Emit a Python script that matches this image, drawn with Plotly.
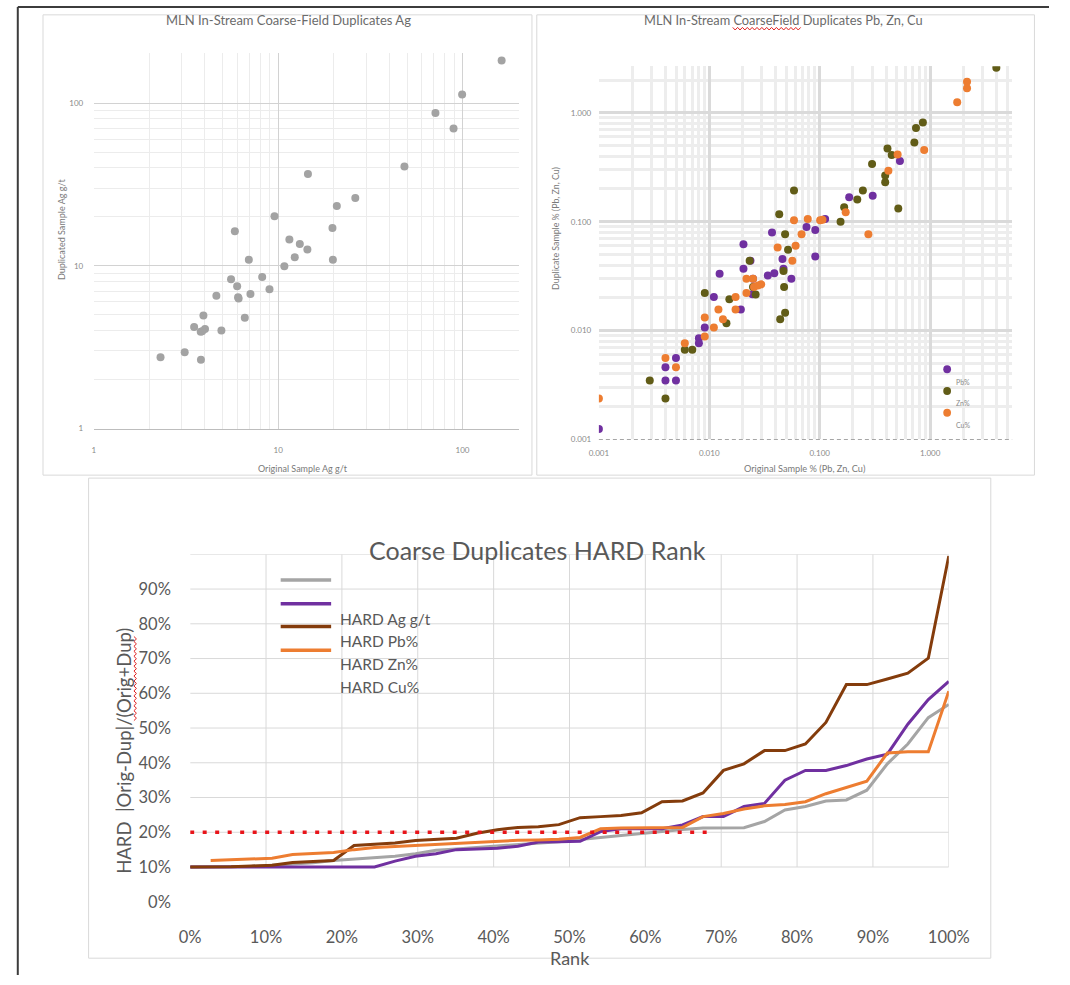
import math
import plotly.graph_objects as go

W, H = 1070, 985
FONT = "Lato"


def fx(p):
    return p / W


def fy(p):
    return 1 - p / H


# ---------------- Top-left: Ag duplicates (g/t) ----------------
ag_orig = [163, 99.5, 71.3, 89.4, 48.4, 14.5, 26.2, 20.8, 9.55, 19.7, 5.82, 11.5,
           13.1, 14.4, 12.3, 6.93, 19.8, 10.8, 8.19, 5.55, 5.99, 8.97, 7.07, 4.62,
           6.06, 6.1, 3.93, 6.59, 3.5, 4.01, 3.8, 4.92, 3.11, 2.3, 3.81, 3.87]
ag_dup = [183, 113, 87, 69.8, 40.8, 36.7, 26.1, 23.3, 20.2, 17.1, 16.3, 14.5,
          13.6, 12.6, 11.3, 10.9, 10.9, 9.93, 8.55, 8.28, 7.5, 7.17, 6.71, 6.56,
          6.41, 6.3, 4.95, 4.8, 4.21, 4.09, 3.93, 4.0, 2.95, 2.74, 2.65, 3.97]

# ---------------- Top-right: Pb, Zn, Cu duplicates (%) ----------------
pb_orig = [0.001, 0.00401, 0.00401, 0.00499, 0.00499, 0.00805, 0.00805, 0.0091,
           0.0110, 0.0124, 0.0193, 0.0204, 0.0204, 0.0236, 0.0249, 0.0246, 0.0339,
           0.0370, 0.0388, 0.0460, 0.0470, 0.0554, 0.0759, 0.0912, 0.0912, 0.112,
           0.185, 0.302, 0.533]
pb_dup = [0.00125, 0.00461, 0.00349, 0.0056, 0.00349, 0.00851, 0.00767, 0.0107,
          0.0204, 0.0332, 0.0156, 0.0622, 0.0369, 0.0439, 0.0299, 0.0216, 0.0321,
          0.0794, 0.0337, 0.0454, 0.0369, 0.0299, 0.0894, 0.0839, 0.0478, 0.106,
          0.168, 0.173, 0.361]

zn_orig = [0.00289, 0.00401, 0.0060, 0.00702, 0.0091, 0.0152, 0.0143, 0.0232,
           0.0263, 0.0249, 0.0430, 0.0439, 0.0486, 0.0476, 0.0470, 0.0486, 0.0517,
           0.0585, 0.1545, 0.1666, 0.219, 0.246, 0.298, 0.392, 0.392, 0.449, 0.411,
           0.515, 0.720, 0.745, 0.860, 3.98]
zn_dup = [0.00349, 0.00238, 0.00667, 0.00667, 0.0221, 0.0194, 0.0117, 0.0439,
          0.0214, 0.0251, 0.117, 0.0127, 0.0146, 0.0251, 0.0352, 0.0767, 0.0553,
          0.193, 0.100, 0.136, 0.160, 0.193, 0.339, 0.266, 0.230, 0.409, 0.471,
          0.132, 0.534, 0.726, 0.816, 2.60]

cu_orig = [0.001, 0.00401, 0.00499, 0.0060, 0.0091, 0.0091, 0.0110, 0.0121, 0.0133,
           0.0173, 0.0173, 0.0217, 0.0217, 0.0249, 0.0254, 0.0295, 0.0276, 0.0416,
           0.0565, 0.0605, 0.0585, 0.0685, 0.078, 0.101, 0.106, 0.172, 0.276, 0.419,
           0.508, 0.884, 1.76, 2.16, 2.16]
cu_dup = [0.00238, 0.0056, 0.00461, 0.00767, 0.0132, 0.00881, 0.0107, 0.0156, 0.0127,
          0.0204, 0.0156, 0.0221, 0.0299, 0.0299, 0.0251, 0.0266, 0.0260, 0.0581,
          0.0439, 0.0601, 0.103, 0.0767, 0.106, 0.103, 0.104, 0.122, 0.0767, 0.293,
          0.415, 0.455, 1.25, 1.93, 1.68]

scatter_names = ["Pb%", "Zn%", "Cu%"]
scatter_colors = ["#7030a0", "#615c17", "#ed7d31"]

# ---------------- Bottom: HARD rank ----------------
rank = [0.000, 0.027, 0.054, 0.081, 0.108, 0.135, 0.162, 0.189, 0.216, 0.243,
        0.270, 0.297, 0.324, 0.351, 0.378, 0.405, 0.432, 0.459, 0.486, 0.514,
        0.541, 0.568, 0.595, 0.622, 0.649, 0.676, 0.703, 0.730, 0.757, 0.784,
        0.811, 0.838, 0.865, 0.892, 0.919, 0.946, 0.973, 1.000]
rank_cu = rank[1:]

hard_ag = [0.100, 0.100, 0.100, 0.102, 0.105, 0.108, 0.112, 0.119, 0.123, 0.126,
           0.131, 0.138, 0.148, 0.152, 0.156, 0.160, 0.164, 0.168, 0.173, 0.179,
           0.185, 0.192, 0.197, 0.203, 0.208, 0.212, 0.212, 0.213, 0.231, 0.264,
           0.274, 0.290, 0.293, 0.321, 0.397, 0.454, 0.530, 0.568]
hard_pb = [0.100, 0.100, 0.100, 0.100, 0.100, 0.100, 0.100, 0.100, 0.100, 0.100,
           0.117, 0.131, 0.138, 0.150, 0.152, 0.154, 0.160, 0.172, 0.173, 0.174,
           0.202, 0.210, 0.210, 0.210, 0.221, 0.245, 0.245, 0.274, 0.283, 0.350,
           0.378, 0.378, 0.392, 0.411, 0.425, 0.511, 0.582, 0.634]
hard_zn = [0.100, 0.100, 0.101, 0.103, 0.105, 0.113, 0.115, 0.119, 0.162, 0.166,
           0.169, 0.176, 0.180, 0.183, 0.197, 0.207, 0.214, 0.216, 0.222, 0.242,
           0.245, 0.248, 0.256, 0.288, 0.290, 0.313, 0.378, 0.397, 0.435, 0.435,
           0.454, 0.516, 0.625, 0.625, 0.641, 0.658, 0.701, 0.995]
hard_cu = [0.119, 0.121, 0.123, 0.125, 0.136, 0.139, 0.142, 0.150, 0.156, 0.159,
           0.162, 0.166, 0.170, 0.172, 0.175, 0.177, 0.178, 0.180, 0.185, 0.210,
           0.212, 0.212, 0.212, 0.214, 0.245, 0.254, 0.267, 0.276, 0.280, 0.288,
           0.311, 0.330, 0.347, 0.428, 0.432, 0.432, 0.606]

hard_names = ["HARD Ag g/t", "HARD Pb%", "HARD Zn%", "HARD Cu%"]
hard_colors = ["#a5a5a5", "#7030a0", "#843c0c", "#ed7d31"]

threshold_x = [0.0, 0.69]
threshold_y = [0.20, 0.20]

bottom_ticks = [0.0, 0.1, 0.2, 0.3, 0.4, 0.5, 0.6, 0.7, 0.8, 0.9, 1.0]
bottom_grid = [0.1, 0.2, 0.3, 0.4, 0.5, 0.6, 0.7, 0.8, 0.9, 1.0]

# ---------------- Figure ----------------
fig = go.Figure()

fig.add_trace(go.Scatter(
    x=ag_orig, y=ag_dup, mode="markers", name="Ag g/t", showlegend=False,
    marker=dict(color="#a3a3a3", size=8, symbol="circle"),
    xaxis="x", yaxis="y"))

for nm, xs, ys, col in zip(scatter_names, [pb_orig, zn_orig, cu_orig],
                           [pb_dup, zn_dup, cu_dup], scatter_colors):
    fig.add_trace(go.Scatter(
        x=xs, y=ys, mode="markers", name=nm, showlegend=False,
        marker=dict(color=col, size=8, symbol="circle"),
        xaxis="x2", yaxis="y2"))

for nm, xs, ys, col in zip(hard_names, [rank, rank, rank, rank_cu],
                           [hard_ag, hard_pb, hard_zn, hard_cu], hard_colors):
    fig.add_trace(go.Scatter(
        x=xs, y=ys, mode="lines", name=nm, showlegend=False,
        line=dict(color=col, width=3),
        xaxis="x3", yaxis="y3"))

fig.add_trace(go.Scatter(
    x=threshold_x, y=threshold_y, mode="lines", name="20% limit", showlegend=False,
    line=dict(color="#e8141a", width=3.5, dash="4px,8.5px"),
    xaxis="x3", yaxis="y3"))

tl_minor = [2, 3, 4, 5, 6, 7, 8, 9, 20, 30, 40, 50, 60, 70, 80, 90, 200]
tr_minor = [0.002, 0.003, 0.004, 0.005, 0.006, 0.007, 0.008, 0.009,
            0.02, 0.03, 0.04, 0.05, 0.06, 0.07, 0.08, 0.09,
            0.2, 0.3, 0.4, 0.5, 0.6, 0.7, 0.8, 0.9, 2, 3, 4, 5]

small_tick = dict(size=8, color="#8a8a8a", family=FONT)

fig.update_layout(
    width=W, height=H, autosize=False,
    margin=dict(l=0, r=0, t=0, b=0, pad=0),
    paper_bgcolor="white", plot_bgcolor="white",
    showlegend=False,
    font=dict(family=FONT, color="#595959"),
    xaxis=dict(type="log", domain=[fx(85.4), fx(523.4)], range=[0, 2.305], anchor="y",
               tickvals=[1, 10, 100], ticktext=["1", "10", "100"],
               showgrid=True, gridcolor="#d2d2d2", gridwidth=1,
               minor=dict(tickvals=tl_minor, showgrid=True, gridcolor="#ececec"),
               showline=True, linecolor="#bdbdbd", zeroline=False,
               ticks="outside", ticklen=14, tickcolor="rgba(0,0,0,0)",
               tickfont=small_tick),
    yaxis=dict(type="log", domain=[fy(433), fy(54)], range=[0, 2.305], anchor="x",
               tickvals=[1, 10, 100], ticktext=["1", "10", "100"],
               showgrid=True, gridcolor="#d2d2d2", gridwidth=1,
               minor=dict(tickvals=tl_minor, showgrid=True, gridcolor="#ececec"),
               showline=False, zeroline=False,
               ticks="outside", ticklen=8, tickcolor="rgba(0,0,0,0)",
               tickfont=small_tick),
    xaxis2=dict(type="log", domain=[fx(606), fx(1032)], range=[-3, 0.743], anchor="y2",
                tickvals=[0.001, 0.01, 0.1, 1], tickformat=".3f",
                showgrid=True, gridcolor="#dadada", gridwidth=2.5,
                minor=dict(tickvals=tr_minor, showgrid=True, gridcolor="#ededed"),
                showline=False, zeroline=False,
                ticks="outside", ticklen=6, tickcolor="rgba(0,0,0,0)",
                tickfont=small_tick),
    yaxis2=dict(type="log", domain=[fy(444), fy(67)], range=[-3, 0.427], anchor="x2",
                tickvals=[0.001, 0.01, 0.1, 1], tickformat=".3f",
                showgrid=True, gridcolor="#dadada", gridwidth=2.5,
                minor=dict(tickvals=tr_minor, showgrid=True, gridcolor="#ededed"),
                showline=False, zeroline=False,
                ticks="outside", ticklen=5, tickcolor="rgba(0,0,0,0)",
                tickfont=small_tick),
    xaxis3=dict(domain=[fx(184.7), fx(966.7)], range=[0, 1], anchor="y3",
                tickvals=bottom_ticks, tickformat=".0%",
                showgrid=False, showline=False, zeroline=False,
                ticks="outside", ticklen=20, tickcolor="rgba(0,0,0,0)",
                tickfont=dict(size=16.5, color="#595959", family=FONT)),
    yaxis3=dict(domain=[fy(911), fy(560)], range=[0, 1], anchor="x3",
                tickvals=bottom_ticks[:-1], tickformat=".0%",
                showgrid=False, showline=False, zeroline=False,
                ticks="outside", ticklen=15, tickcolor="rgba(0,0,0,0)",
                tickfont=dict(size=16.5, color="#595959", family=FONT)),
)

shapes = []
# outer frame lines and chart frames
shapes.append(dict(type="line", xref="paper", yref="paper", x0=fx(7), x1=fx(1070), y0=fy(7), y1=fy(7),
                   line=dict(color="#3c3c3c", width=2)))
shapes.append(dict(type="line", xref="paper", yref="paper", x0=fx(7), x1=fx(7), y0=fy(7), y1=fy(985),
                   line=dict(color="#3c3c3c", width=2)))
for (a, b, c, d) in [(33, 15, 537, 480), (542, 15, 1055, 480), (80, 483, 1010, 968)]:
    shapes.append(dict(type="rect", xref="paper", yref="paper", x0=fx(a), x1=fx(c), y0=fy(d), y1=fy(b),
                       line=dict(color="#d9d9d9", width=1), fillcolor="rgba(0,0,0,0)", layer="below"))

# dashed baseline of the right scatter
shapes.append(dict(type="line", xref="x2 domain", yref="y2 domain", x0=0, x1=1, y0=0, y1=0,
                   line=dict(color="#a6a6a6", width=1.2, dash="4px,3px")))

# bottom chart gridlines: horizontal, first vertical, legend box, remaining verticals
for v in bottom_grid:
    shapes.append(dict(type="line", xref="x3", yref="y3", x0=0, x1=1, y0=v, y1=v,
                       line=dict(color="#d9d9d9", width=1), layer="below"))
shapes.append(dict(type="line", xref="x3", yref="y3", x0=bottom_grid[0], x1=bottom_grid[0], y0=0.1, y1=1.0,
                   line=dict(color="#d9d9d9", width=1), layer="below"))
shapes.append(dict(type="rect", xref="paper", yref="paper", x0=fx(255), x1=fx(477), y0=fy(662), y1=fy(572),
                   line=dict(width=0), fillcolor="white", layer="below"))
for v in bottom_grid[1:]:
    shapes.append(dict(type="line", xref="x3", yref="y3", x0=v, x1=v, y0=0.1, y1=1.0,
                       line=dict(color="#d9d9d9", width=1), layer="below"))

# bottom legend line samples
leg_line_y = [586, 610, 633, 657]
for yy, col in zip(leg_line_y, hard_colors):
    shapes.append(dict(type="line", xref="paper", yref="paper", x0=fx(278), x1=fx(330), y0=fy(yy), y1=fy(yy),
                       line=dict(color=col, width=3.5)))

# right scatter legend markers
leg_mark_y = [373, 395, 417]
for yy, col in zip(leg_mark_y, scatter_colors):
    shapes.append(dict(type="circle", xref="paper", yref="paper", x0=fx(961), x1=fx(969),
                       y0=fy(yy + 4), y1=fy(yy - 4), line=dict(width=0), fillcolor=col))


# spell-check squiggles seen in the reference
def squiggle(x0, y0, x1, y1, amp=1.3, step=2.5):
    length = math.hypot(x1 - x0, y1 - y0)
    n = int(length / step)
    ux, uy = (x1 - x0) / length, (y1 - y0) / length
    nx, ny = -uy, ux
    pts = []
    for i in range(n + 1):
        s = i * step
        o = amp if i % 2 else -amp
        pts.append((x0 + ux * s + nx * o, y0 + uy * s + ny * o))
    return "M " + " L ".join(f"{fx(px):.5f},{fy(py):.5f}" for px, py in pts)


for seg in [(744, 29, 815, 29), (128, 728, 128, 643)]:
    shapes.append(dict(type="path", xref="paper", yref="paper", path=squiggle(*seg),
                       line=dict(color="#e02020", width=1)))

fig.update_layout(shapes=shapes)

ann = []


def text(x, y, s, size, color="#595959", angle=0, xanchor="center"):
    ann.append(dict(x=fx(x), y=fy(y), xref="paper", yref="paper", text=s, showarrow=False,
                    font=dict(size=size, color=color, family=FONT), textangle=angle,
                    xanchor=xanchor, yanchor="middle"))


text(286, 20, "MLN In-Stream Coarse-Field Duplicates Ag", 13, "#6b6b6b")
text(52, 232, "Duplicated Sample Ag g/t", 9, "#7a7a7a", angle=-90)
text(301, 473, "Original Sample Ag g/t", 9, "#7a7a7a")

text(796, 20, "MLN In-Stream CoarseField Duplicates Pb, Zn, Cu", 12.8, "#6b6b6b")
text(561, 231, "Duplicate Sample % (Pb, Zn, Cu)", 8.8, "#7a7a7a", angle=-90)
text(818, 473, "Original Sample % (Pb, Zn, Cu)", 9.2, "#7a7a7a")
for yy, nm in zip([386, 407, 429], scatter_names):
    text(972, yy, nm, 7, "#8a8a8a", xanchor="left")

text(543, 556, "Coarse Duplicates HARD Rank", 25, "#595959")
text(117, 759, "HARD  |Orig-Dup|/(Orig+Dup)", 18.5, "#595959", angle=-90)
text(576, 968, "Rank", 18, "#595959")
for yy, nm in zip([625, 648, 671, 694], hard_names):
    text(337, yy, nm, 15.5, "#595959", xanchor="left")

fig.update_layout(annotations=ann)

fig.write_html("out.html")
